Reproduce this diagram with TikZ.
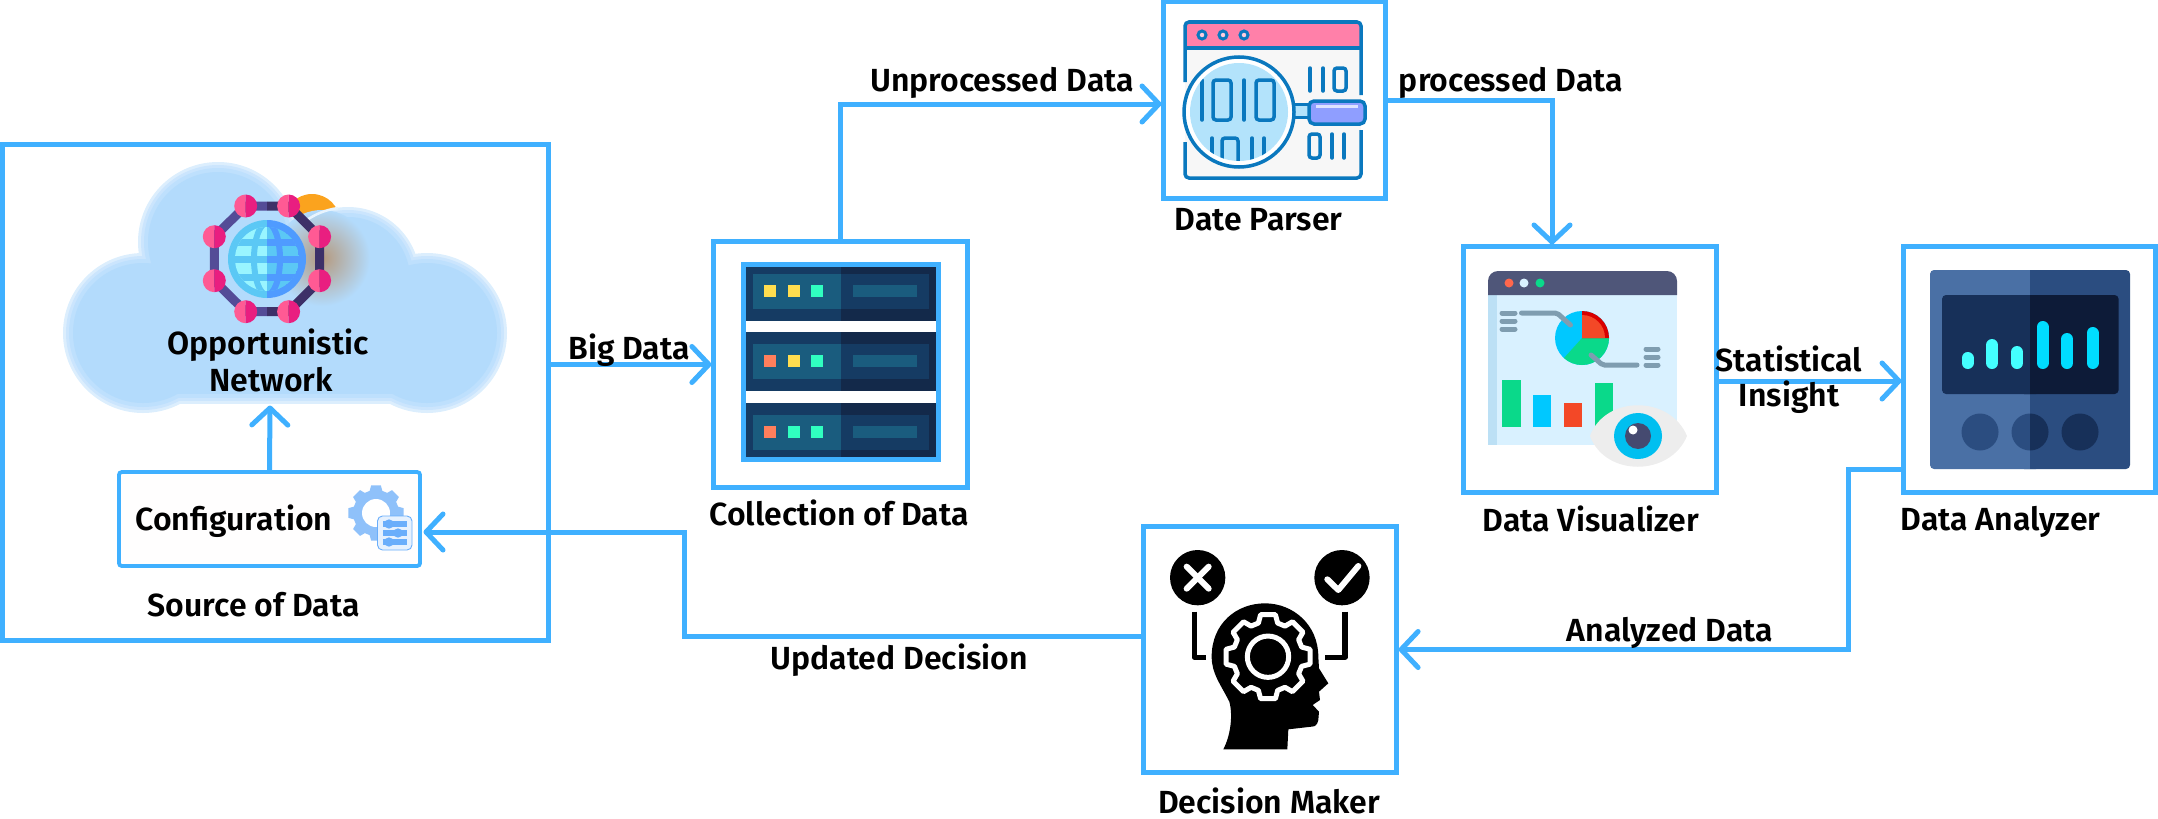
\documentclass[tikz,border=0pt]{standalone}
\usepackage{xcolor}
\usepackage{fontspec}
\setmainfont{Fira Sans SemiBold}
\usetikzlibrary{arrows.meta}

\definecolor{LineBlue}{HTML}{3FB0FF}
\definecolor{CloudA}{HTML}{DCEEFD}
\definecolor{CloudB}{HTML}{CBE5FD}
\definecolor{CloudC}{HTML}{BEE0FD}
\definecolor{CloudD}{HTML}{B3DBFC}
\definecolor{SunO}{HTML}{FBA31E}
\definecolor{PinkL}{HTML}{FF5A94}
\definecolor{PinkR}{HTML}{E91E80}
\definecolor{RingL}{HTML}{544C97}
\definecolor{RingR}{HTML}{3D3068}
\definecolor{GlobeL}{HTML}{5BC8F5}
\definecolor{GlobeR}{HTML}{4F9BFF}
\definecolor{GlobeC}{HTML}{99F5FF}
\definecolor{CfgGear}{HTML}{8FC1FA}
\definecolor{CfgLine}{HTML}{6AAEFB}
\definecolor{CfgCard}{HTML}{E6F1FE}
\definecolor{RackA}{HTML}{153B63}
\definecolor{RackC}{HTML}{1A5C7E}
\definecolor{RackD}{HTML}{13294A}
\definecolor{LedY}{HTML}{FFDD4F}
\definecolor{LedO}{HTML}{FF7F5C}
\definecolor{LedG}{HTML}{30FFC0}
\definecolor{ParsLine}{HTML}{0A78BE}
\definecolor{ParsLens}{HTML}{B3E3FB}
\definecolor{ParsPink}{HTML}{FF80A9}
\definecolor{ParsGrip}{HTML}{8F9EFF}
\definecolor{VisBody}{HTML}{D9F1FF}
\definecolor{VisStrip}{HTML}{BCE0F5}
\definecolor{VisBar}{HTML}{4F5679}
\definecolor{VisGreen}{HTML}{0AD98A}
\definecolor{VisBlue}{HTML}{00C8FF}
\definecolor{VisRed}{HTML}{F34827}
\definecolor{VisGrey}{HTML}{7F9DB0}
\definecolor{VisIris}{HTML}{00BFF0}
\definecolor{VisPupil}{HTML}{454A70}
\definecolor{AnaA}{HTML}{4A70A5}
\definecolor{AnaB}{HTML}{2B4D80}
\definecolor{AnaC}{HTML}{173059}
\definecolor{AnaD}{HTML}{0D1B38}
\definecolor{AnaE}{HTML}{44FFFF}
\definecolor{AnaF}{HTML}{00DDFF}

\newcommand\cloudlobes[2]{
  \fill[#2] (143,333) circle[radius={80-#1}];
  \fill[#2] (427,333) circle[radius={80-#1}];
  \fill[#2] (218,242) circle[radius={80-#1}];
  \fill[#2] (348,279) circle[radius={72-#1}];
  \fill[#2] (143,270) rectangle (427,{404-#1});
}
\newcommand\halfdisc[5]{
  \fill[#4] (#1,#2) ++(0,#3) arc[start angle=90,delta angle=180,radius=#3] -- cycle;
  \fill[#5] (#1,#2) ++(0,#3) arc[start angle=90,delta angle=-180,radius=#3] -- cycle;
}
\newcommand\gearshape[5]{
  \begin{scope}[shift={(#1,#2)}]
    \path[#5] (-16:#4) \foreach \a in {0,45,...,315}{ -- (\a-16:#4) -- (\a-10:#3) -- (\a+10:#3) -- (\a+16:#4)} -- cycle;
  \end{scope}
}
\newcommand\globegrid[1]{
  \draw[#1,line width=.06cm] (267,259) ellipse[x radius=13,y radius=36];
  \foreach \h in {242,259,277}
    \draw[#1,line width=.07cm] (220,\h) -- (314,\h);
}

\begin{document}
\begin{tikzpicture}[x=0.01cm,y=-0.01cm,
  box/.style={draw=LineBlue,line width=.5mm,inner sep=0pt,outer sep=0pt},
  arr/.style={-{Straight Barb[length=1.7mm,width=3.6mm,round]},LineBlue,line width=.5mm,shorten >=.25mm},
  lab/.style={inner sep=0pt,font=\fontsize{9.1}{11}\selectfont,text=black},
  bit/.style={ParsLine,line width=.35mm,line cap=round},
  leg/.style={VisGrey,line width=.5mm,line cap=round},
  tick/.style={VisGrey,line width=.5mm,line cap=round}]
  \useasboundingbox (0,0) rectangle (2158,818);

  \node[box,minimum width=5.45cm,minimum height=4.95cm] (src) at (275.5,392.5) {};
  \node[box,minimum width=2.53cm,minimum height=2.45cm] (coll) at (840.5,364.5) {};
  \node[box,minimum width=2.21cm,minimum height=1.96cm] (pars) at (1274.5,100) {};
  \node[box,minimum width=2.52cm,minimum height=2.45cm] (vis) at (1590,369.5) {};
  \node[box,minimum width=2.51cm,minimum height=2.45cm] (ana) at (2029.5,369.5) {};
  \node[box,minimum width=2.52cm,minimum height=2.45cm] (dec) at (1270,649.5) {};
  \node[box,line width=.38mm,rounded corners=.3mm,fill=white!98!pink,minimum width=3.01cm,minimum height=.94cm] (cfg) at (269.5,519) {};

  % cloud
  \fill[SunO] (312,222) circle[radius=28];
  \cloudlobes{0}{CloudA}
  \cloudlobes{3}{CloudB}
  \cloudlobes{6}{CloudC}
  \cloudlobes{10}{CloudD}
  \shade[inner color=brown!55!gray!80,outer color=CloudD] (322,258) circle[radius=48];
  \draw[color=white!70!CloudD,line width=.25mm] (304,222) .. controls (315,214) and (325,210) .. (338,208);

  % network ring
  \draw[RingL,line width=.09cm] (267,206) -- (245.7,206) -- (214.3,236.7) -- (214.3,280.7) -- (245.7,311.7) -- (267,311.7);
  \draw[RingR,line width=.09cm] (267,206) -- (288.6,206) -- (319.6,236.7) -- (319.6,280.7) -- (288.6,311.7) -- (267,311.7);
  \foreach \px/\py in {245.7/206,288.6/206,319.6/236.7,319.6/280.7,288.6/311.7,245.7/311.7,214.3/280.7,214.3/236.7}
    {\halfdisc{\px}{\py}{11.5}{PinkL}{PinkR}}
  \halfdisc{267}{259}{39}{GlobeL}{GlobeR}
  \begin{scope}
    \clip (267,259) circle[radius=32];
    \halfdisc{267}{259}{32}{GlobeC}{GlobeL}
    \begin{scope}
      \clip (200,200) rectangle (267,320);
      \globegrid{GlobeL}
    \end{scope}
    \begin{scope}
      \clip (267,200) rectangle (330,320);
      \globegrid{GlobeR}
    \end{scope}
  \end{scope}

  % configuration icon
  \gearshape{376}{513}{28}{23}{fill=CfgGear}
  \fill[white] (376,513) circle[radius=14];
  \draw[fill=CfgCard,draw=CfgLine,line width=.09mm,rounded corners=.5mm] (377.5,516) rectangle (412,550);
  \foreach \ly/\kx in {524/389,533/398,542/389}{
    \draw[CfgLine,line width=.06cm] (383,\ly) -- (407,\ly);
    \fill[white,draw=CfgLine,line width=.04cm] (\kx,\ly) circle[radius=2.5];
  }

  % server rack
  \draw[LineBlue,fill=white,line width=.5mm] (743.5,264.5) rectangle (938.5,459.5);
  \foreach \t/\b/\p/\colA/\colB/\colC in {267/321/274/LedY/LedY/LedG,332/391/344/LedO/LedY/LedG,403/457/415/LedO/LedG/LedG}{
    \fill[RackA] (746,\t) rectangle (841,\b);
    \fill[RackD] (841,\t) rectangle (936,\b);
    \fill[RackC] (753,\p) rectangle (841,\p+35);
    \fill[RackA] (841,\p) rectangle (929,\p+35);
    \fill[RackC] (853,\p+11) rectangle (917,\p+23);
    \fill[\colA] (764,\p+11) rectangle (776,\p+23);
    \fill[\colB] (787.5,\p+11) rectangle (799.5,\p+23);
    \fill[\colC] (811,\p+11) rectangle (823,\p+23);
  }

  % parser icon
  \fill[black!3] (1185,22) rectangle (1361,178);
  \fill[ParsPink] (1185,22) rectangle (1361,48);
  \draw[ParsLine,line width=.35mm,rounded corners=.4mm] (1185,82) -- (1185,22) -- (1361,22) -- (1361,95);
  \draw[ParsLine,line width=.35mm,rounded corners=.4mm] (1185,142) -- (1185,178) -- (1361,178) -- (1361,130);
  \draw[ParsLine,line width=.35mm] (1185,48) -- (1361,48);
  \foreach \dx in {1202,1223,1244}
    \draw[ParsLine,fill=ParsPink!40,line width=.3mm] (\dx,35) circle[radius=4];
  \draw[bit] (1310,68) -- (1310,91);
  \draw[bit] (1323,68) -- (1323,91);
  \draw[bit,rounded corners=.3mm] (1334,68) rectangle (1346,91);
  \draw[bit,rounded corners=.3mm] (1309,134) rectangle (1320,158);
  \draw[bit] (1332,134) -- (1332,158);
  \draw[bit] (1344,134) -- (1344,158);
  \draw[ParsLine,fill=ParsLens,line width=.3mm] (1292,104) rectangle (1310,117);
  \draw[ParsLine,fill=white,line width=.35mm] (1239,112) circle[radius=55];
  \fill[ParsLens] (1239,112) circle[radius=49];
  \begin{scope}
    \clip (1239,112) circle[radius=49];
    \draw[bit] (1202,80) -- (1202,120);
    \draw[bit,rounded corners=.3mm] (1213,80) rectangle (1231,120);
    \draw[bit] (1244,80) -- (1244,120);
    \draw[bit,rounded corners=.3mm] (1256,80) rectangle (1274,120);
    \draw[bit] (1212,138) -- (1212,170);
    \draw[bit,rounded corners=.3mm] (1222,138) rectangle (1238,175);
    \draw[bit] (1252,138) -- (1252,170);
    \draw[bit] (1264,138) -- (1264,170);
  \end{scope}
  \draw[ParsLine,fill=ParsGrip,line width=.35mm,rounded corners=.5mm] (1309,101) rectangle (1365,124);
  \fill[ParsGrip!30] (1316,105) rectangle (1358,108);

  % visualizer icon
  \fill[VisBody] (1488,295) rectangle (1677,445);
  \fill[VisStrip] (1488,295) rectangle (1497,445);
  \fill[VisBar] (1488,295) -- (1488,281) arc[start angle=180,delta angle=90,radius=10] -- (1667,271) arc[start angle=270,delta angle=90,radius=10] -- (1677,295) -- cycle;
  \fill[red!70!orange!70] (1509,283) circle[radius=4.5];
  \fill[VisBody] (1524,283) circle[radius=4.5];
  \fill[VisGreen] (1540,283) circle[radius=4.5];
  \foreach \ly in {313,321,329}
    \draw[leg] (1502,\ly) -- (1515,\ly);
  \foreach \ly in {349,357,365}
    \draw[leg] (1646,\ly) -- (1658,\ly);
  \fill[VisBlue] (1582,338) circle[radius=27];
  \fill[VisGreen] (1582,338) -- (1609,338) arc[start angle=0,end angle=132,radius=27] -- cycle;
  \fill[red!85!black] (1582,338) -- (1582,311) arc[start angle=-90,end angle=0,radius=27] -- cycle;
  \fill[VisRed] (1582,338) -- (1582,315) arc[start angle=-90,end angle=0,radius=23] -- cycle;
  \draw[tick,rounded corners=.2mm] (1521.5,313) -- (1557,313) -- (1570.5,325);
  \draw[tick,rounded corners=.2mm] (1591,355) -- (1602.5,365) -- (1637,365);
  \fill[VisGreen] (1502,380) rectangle (1520.6,427);
  \fill[VisBlue] (1533.4,395) rectangle (1551,427);
  \fill[VisRed] (1564,403) rectangle (1582,427);
  \fill[VisGreen] (1595,383) rectangle (1612.6,427);
  \fill[black!7] (1590,436) .. controls (1605,395) and (1670,395) .. (1687,436) .. controls (1670,477) and (1605,477) .. (1590,436) -- cycle;
  \fill[VisIris] (1638,436) ellipse[x radius=24,y radius=23];
  \fill[VisPupil] (1638,436) circle[radius=13];
  \fill[white] (1633,430) circle[radius=4.5];

  % analyzer icon
  \fill[AnaA,rounded corners=.4mm] (1930,270) rectangle (2040,469);
  \fill[AnaB,rounded corners=.4mm] (2020,270) rectangle (2130,469);
  \fill[AnaA] (2020,270) rectangle (2030,469);
  \fill[AnaC,rounded corners=.4mm] (1942,295) rectangle (2040,394);
  \fill[AnaD,rounded corners=.4mm] (2020,295) rectangle (2118.6,394);
  \fill[AnaC] (2020,295) rectangle (2030,394);
  \foreach \bx/\by/\colA in {1967.5/352/AnaE,1992/339/AnaE,2017/346/AnaE,2042.6/321/AnaF,2067/333/AnaF,2092.5/327/AnaF}
    \draw[\colA,line width=.12cm,line cap=round] (\bx,\by+6) -- (\bx,363);
  \fill[AnaB] (1980,432) circle[radius=18.5];
  \halfdisc{2030}{432}{18.5}{AnaB}{AnaC}
  \fill[AnaC] (2080,432) circle[radius=18.5];

  % decision icon
  \begin{scope}[shift={(1130,510)},scale=.3333]
    \fill[black] (203,203) circle[radius=83];
    \fill[black] (636,203) circle[radius=83];
    \draw[white,line width=.06cm,line cap=round] (170,170) -- (236,236);
    \draw[white,line width=.06cm,line cap=round] (236,170) -- (170,236);
    \draw[white,line width=.06cm,line cap=round,line join=round] (592,208) -- (625,240) -- (685,168);
    \draw[black,line width=.05cm,line join=round] (193,305) -- (193,442) -- (228,442);
    \draw[black,line width=.05cm,line join=round] (645,305) -- (645,442) -- (585,442);
    \fill[black] (280,718) .. controls (300,680) and (310,620) .. (298,575) .. controls (270,520) and (245,490) .. (245,440) .. controls (245,340) and (320,280) .. (405,280) .. controls (490,280) and (565,345) .. (565,440) -- (567,475) -- (595,520) -- (567,545) -- (570,570) -- (548,585) -- (567,605) -- (565,630) .. controls (562,645) and (555,650) .. (545,650) -- (475,658) -- (472,718) -- cycle;
  \end{scope}
  \begin{scope}[shift={(1268,656.7)},scale=.3333]
    \gearshape{0}{0}{128}{105}{fill=black,draw=white,line width=.05cm,line join=round}
    \draw[white,fill=black,line width=.05cm] (0,0) circle[radius=62];
  \end{scope}

  \coordinate (netin) at (270,403);
  \coordinate (cfgin) at (421,532);
  \coordinate (parsin) at (1164,104);
  \coordinate (visin) at (1552,247);
  \coordinate (anain) at (1904,381);
  \coordinate (anaout) at (1904,469);
  \coordinate (anaturn) at (1848,649.5);
  \coordinate (decout) at (1144,636);
  \coordinate (decturn) at (684,532);

  \draw[arr] (cfg.north) -- (netin);
  \draw[arr] (src.east |- coll.west) -- (coll.west);
  \draw[arr] (coll.north) |- (parsin);
  \draw[arr] (pars.east) -| (visin);
  \draw[arr] (vis.east |- anain) -- (anain);
  \draw[arr] (anaout) -| (anaturn) -- (dec.east);
  \draw[arr] (decout) -| (decturn) -- (cfgin);

  \node[lab] (opp) at (268,345) {Opportunistic};
  \node[lab] (nwk) at (271,380) {Network};
  \node[lab] (cfgt) at (234,521) {Configuration};
  \node[lab] (srct) at (253.5,605) {Source of Data};
  \node[lab] (bigt) at (629,350) {Big Data};
  \node[lab] (collt) at (839,513) {Collection of Data};
  \node[lab] (unpt) at (1002,83) {Unprocessed Data};
  \node[lab] (parst) at (1258.5,220) {Date Parser};
  \node[lab] (prot) at (1511,83) {processed Data};
  \node[lab] (stat) at (1789,359) {Statistical};
  \node[lab] (inst) at (1789,397) {Insight};
  \node[lab] (vist) at (1591,519) {Data Visualizer};
  \node[lab] (anat) at (2000.5,522) {Data Analyzer};
  \node[lab] (andt) at (1670,633) {Analyzed Data};
  \node[lab] (updt) at (899,660) {Updated Decision};
  \node[lab] (dect) at (1269,801) {Decision Maker};
\end{tikzpicture}
\end{document}
